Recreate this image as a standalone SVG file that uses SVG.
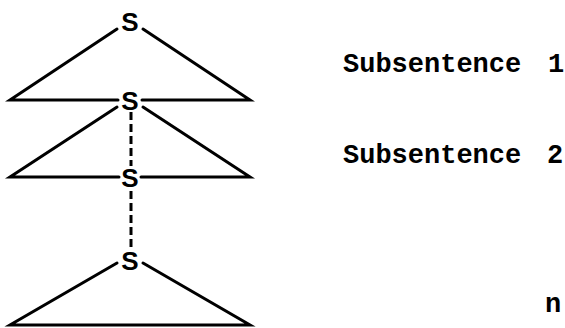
<svg xmlns="http://www.w3.org/2000/svg" width="565" height="328" viewBox="0 0 565 328">
<style>
.s{font-family:"Liberation Sans",Arial,sans-serif;font-weight:bold;font-size:26px;fill:#000;text-anchor:middle}
.t{font-family:"Liberation Mono","Courier New",monospace;font-weight:bold;font-size:27px;fill:#000}
.ln{stroke:#000;stroke-width:3;fill:none;stroke-linecap:round}
.dash{stroke:#000;stroke-width:3;fill:none;stroke-dasharray:8 4}
</style>
<rect width="565" height="328" fill="#fff"/>
<g id="connectors">
  <!-- triangle 1 -->
  <path class="ln" d="M117,29 L10,100 L118,100 M142,100 L250,100 L143,29"/>
  <!-- triangle 2 -->
  <path class="ln" d="M117,107 L10,177 L119,177 M141,177 L250,177 L143,107"/>
  <!-- triangle n -->
  <path class="ln" d="M117,263 L10,325 L250,325 L143,263"/>
  <!-- dashed links -->
  <line class="dash" x1="131" y1="112" x2="131" y2="166"/>
  <line class="dash" x1="131" y1="191" x2="131" y2="250"/>
</g>
<g id="s1"><text class="s" x="130" y="31">S</text></g>
<g id="s2"><text class="s" x="130" y="110">S</text></g>
<g id="s3"><text class="s" x="130" y="187">S</text></g>
<g id="s4"><text class="s" x="130" y="270">S</text></g>
<g id="label1"><text class="t" x="343" y="72">Subsentence<tspan x="548">1</tspan></text></g>
<g id="label2"><text class="t" x="343" y="163">Subsentence<tspan x="547">2</tspan></text></g>
<g id="labeln"><text class="t" x="545" y="312">n</text></g>
</svg>
